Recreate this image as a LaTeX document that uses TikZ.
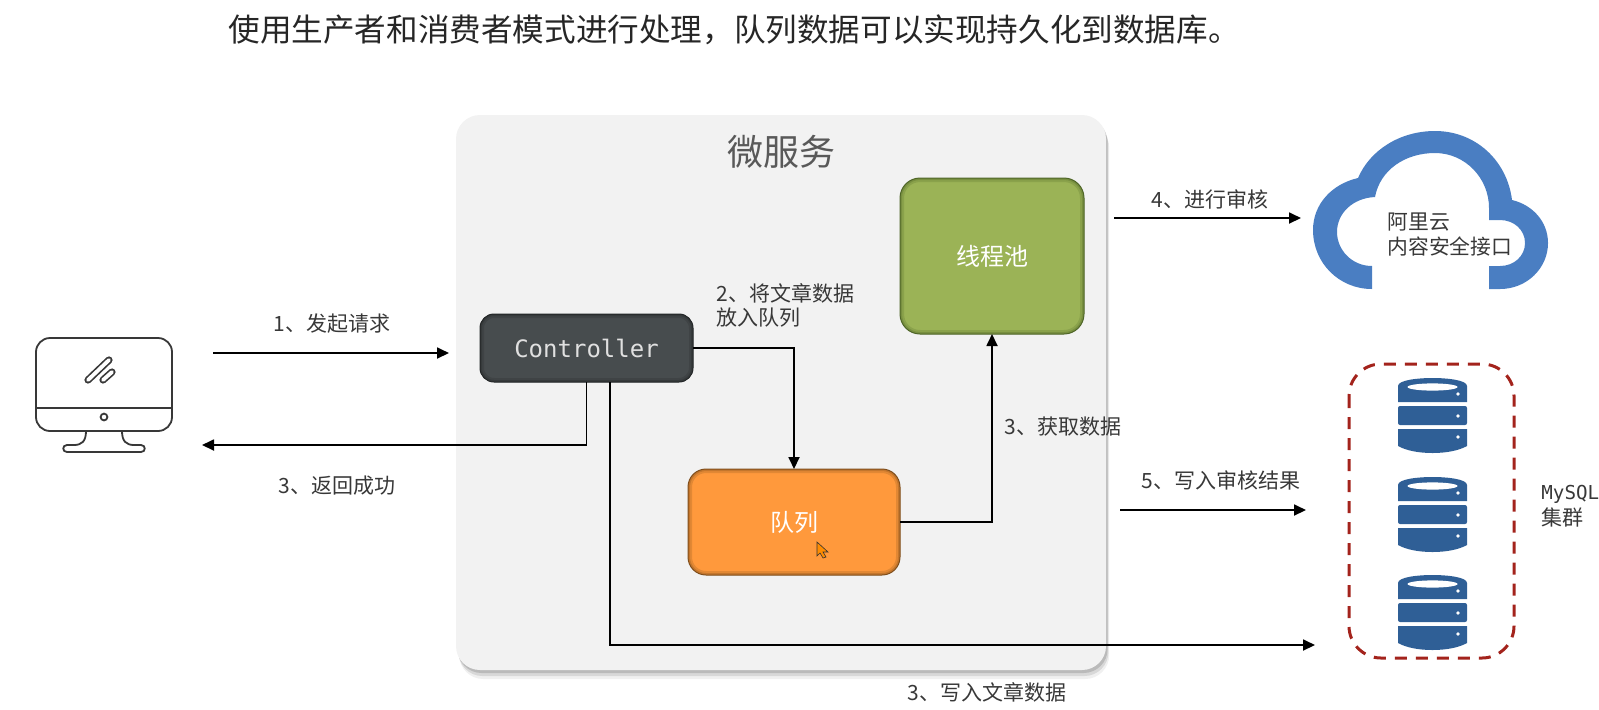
\documentclass[tikz,border=0pt]{standalone}
\usepackage{fontspec}
\setmainfont{Noto Sans CJK SC}
\setmonofont{DejaVu Sans Mono}
\usetikzlibrary{arrows.meta, positioning, shadows}
\definecolor{panelgray}{HTML}{F2F2F2}
\definecolor{ctrlgray}{HTML}{474C4E}
\definecolor{ctrledge}{HTML}{232627}
\definecolor{queueorange}{HTML}{FF993C}
\definecolor{queueedge}{HTML}{7F4E1C}
\definecolor{poolgreen}{HTML}{9BB356}
\definecolor{pooledge}{HTML}{4F6628}
\definecolor{cloudblue}{HTML}{4A7EC2}
\definecolor{dbblue}{HTML}{2F5F96}
\definecolor{clusterred}{HTML}{A3231C}
\definecolor{labelgray}{HTML}{383838}
\tikzset{
  box/.style={rectangle, rounded corners=#1, draw, line width=0.5pt, outer sep=0pt, text centered,
              path picture={
                \draw[opacity=0.22, line width=4pt, rounded corners=#1]
                  (path picture bounding box.south west) rectangle (path picture bounding box.north east);
                \draw[opacity=0.30, line width=2pt, rounded corners=#1]
                  (path picture bounding box.south west) rectangle (path picture bounding box.north east);
              }},
  arrow/.style={-{Triangle[length=6pt,width=5.5pt]}, line width=0.9pt, black},
  plainlabel/.style={font=\fontsize{10.5}{15}\selectfont, text=labelgray, inner sep=0pt, align=left},
  iconline/.style={draw=labelgray, line width=0.9pt},
  dbstack/.pic={
    \fill[dbblue] (0,8) .. controls (0,2) and (20,0) .. (34.5,0) .. controls (49,0) and (69,2) .. (69,8)
      -- (69,24) -- (0,24) -- cycle;
    \fill[white] (34.5,9) ellipse (12.5pt and 1.8pt);
    \fill[dbblue, rounded corners=1pt] (0,28) rectangle (69,47);
    \fill[dbblue] (0,51) -- (69,51) -- (69,68) .. controls (60,73) and (47,75) .. (34.5,75)
      .. controls (22,75) and (9,73) .. (0,68) -- cycle;
    \foreach \doty in {16,38,59}
      \fill[white] (60,\doty) circle (0.9pt);
  },
}

\begin{document}
\begin{tikzpicture}[x=0.5pt, y=-0.5pt]
  \useasboundingbox (0,0) rectangle (1599,709);

  % Title
  \node[font=\fontsize{15.8}{19}\selectfont, text=black!85, inner sep=0pt, anchor=west] (title) at (228,30)
    {使用生产者和消费者模式进行处理，队列数据可以实现持久化到数据库。};

  % Service panel
  \node[rectangle, rounded corners=12pt, fill=panelgray, outer sep=0pt,
        minimum width=325pt, minimum height=277.5pt, inner sep=0pt,
        drop shadow={shadow xshift=1.6pt, shadow yshift=-4.5pt, opacity=0.06, fill=black},
        drop shadow={shadow xshift=1.2pt, shadow yshift=-3pt, opacity=0.10, fill=black},
        drop shadow={shadow xshift=0.8pt, shadow yshift=-1.5pt, opacity=0.14, fill=black}] (panel) at (781,392.5) {};
  \node[font=\fontsize{18}{22}\selectfont, text=black!65, inner sep=0pt] (paneltitle) at (781,152) {微服务};

  % Boxes
  \node[box=7pt, draw=ctrledge, fill=ctrlgray, minimum width=106.5pt, minimum height=34pt, text=white!88!black,
        font=\ttfamily\fontsize{12}{14}\selectfont] (controller) at (586.5,348) {Controller};
  \node[box=9pt, draw=queueedge, fill=queueorange, minimum width=106pt, minimum height=53pt, text=white,
        font=\fontsize{12}{14}\selectfont] (queue) at (794,522) {队列};
  \node[box=10pt, draw=pooledge, fill=poolgreen, minimum width=92pt, minimum height=78pt, text=white,
        font=\fontsize{12}{14}\selectfont] (pool) at (992,256) {线程池};

  % Mouse pointer
  \filldraw[fill=orange!90!yellow, draw=black!80, line width=0.3pt] (817,542) -- (817,556) -- (820,553) -- (823,558)
    -- (826,557) -- (823,552) -- (828,552) -- cycle;

  % Client
  \coordinate (clientout) at (213,353);
  \coordinate (clientin) at (202,445);
  \coordinate (controllerin) at (449,353);
  \draw[iconline, rounded corners=7pt] (36,431) rectangle (172,338);
  \draw[iconline] (36,408) -- (172,408);
  \draw[iconline] (104,417) circle (1.7pt);
  \draw[iconline] (86,431) .. controls (86,441) and (82,445) .. (74,445) -- (67,445)
    .. controls (62,445) and (62,452) .. (67,452) -- (141,452)
    .. controls (146,452) and (146,445) .. (141,445) -- (134,445)
    .. controls (126,445) and (122,441) .. (122,431);
  \draw[labelgray, line width=3.6pt, line cap=round] (88,380) -- (109,360);
  \draw[white, line width=1.9pt, line cap=round] (88,380) -- (109,360);
  \draw[labelgray, line width=3.6pt, line cap=round] (103,380) -- (112,372);
  \draw[white, line width=1.9pt, line cap=round] (103,380) -- (112,372);

  % Cloud
  \fill[cloudblue] (1372,289) .. controls (1339,289) and (1313,263) .. (1313,230)
    .. controls (1313,204) and (1332,184) .. (1358,178)
    .. controls (1370,150) and (1400,131) .. (1435,131)
    .. controls (1475,131) and (1507,160) .. (1512,200)
    .. controls (1533,205) and (1548,222) .. (1548,243)
    .. controls (1548,268) and (1527,289) .. (1500,289) -- (1489,289) -- (1489,266) -- (1500,266)
    .. controls (1514,266) and (1525,256) .. (1525,243)
    .. controls (1525,230) and (1514,220) .. (1500,220) -- (1489,220) -- (1489,208)
    .. controls (1489,178) and (1465,153) .. (1435,153)
    .. controls (1405,153) and (1380,170) .. (1375,197)
    .. controls (1353,198) and (1337,213) .. (1337,232)
    .. controls (1337,250) and (1352,266) .. (1372,266) -- cycle;
  \node[plainlabel, anchor=west, font=\fontsize{10.4}{12.5}\selectfont] (cloudlabel) at (1387,235) {阿里云\\内容安全接口};

  % MySQL cluster
  \draw[clusterred, line width=1.5pt, dash pattern=on 6pt off 4.5pt, rounded corners=16pt] (1349,364) rectangle (1514,658);
  \pic at (1398,378) {dbstack};
  \pic at (1398,477) {dbstack};
  \pic at (1398,575) {dbstack};
  \node[plainlabel, anchor=west, font=\fontsize{10.5}{13}\selectfont] (mysqllabel) at (1541,506)
    {{\ttfamily\fontsize{9.6}{13}\selectfont MySQL}\\集群};

  % Free ends
  \coordinate (auditfrom) at (1114,218);
  \coordinate (auditto) at (1301,218);
  \coordinate (resultfrom) at (1120,510);
  \coordinate (resultto) at (1306,510);
  \coordinate (writeto) at (1315,645);
  \coordinate (writeturn) at ([xshift=11.75pt]controller.south);

  % Arrows
  \draw[arrow] (clientout) -- (controllerin);
  \draw[arrow] (controller.south) |- (clientin);
  \draw[arrow] (writeturn) |- (writeto);
  \draw[arrow] (controller.east) -| (queue.north);
  \draw[arrow] (queue.east) -| (pool.south);
  \draw[arrow] (auditfrom) -- (auditto);
  \draw[arrow] (resultfrom) -- (resultto);

  % Labels
  \node[plainlabel] (reqlabel) at (332,324) {1、发起请求};
  \node[plainlabel] (backlabel) at (337,486) {3、返回成功};
  \node[plainlabel, anchor=north west, font=\fontsize{10.5}{12}\selectfont] (putlabel) at (716,283) {2、将文章数据\\放入队列};
  \node[plainlabel] (getlabel) at (1063,427) {3、获取数据};
  \node[plainlabel] (auditlabel) at (1210,199) {4、进行审核};
  \node[plainlabel] (resultlabel) at (1221,480) {5、写入审核结果};
  \node[plainlabel] (writelabel) at (987,692) {3、写入文章数据};

\end{tikzpicture}
\end{document}
